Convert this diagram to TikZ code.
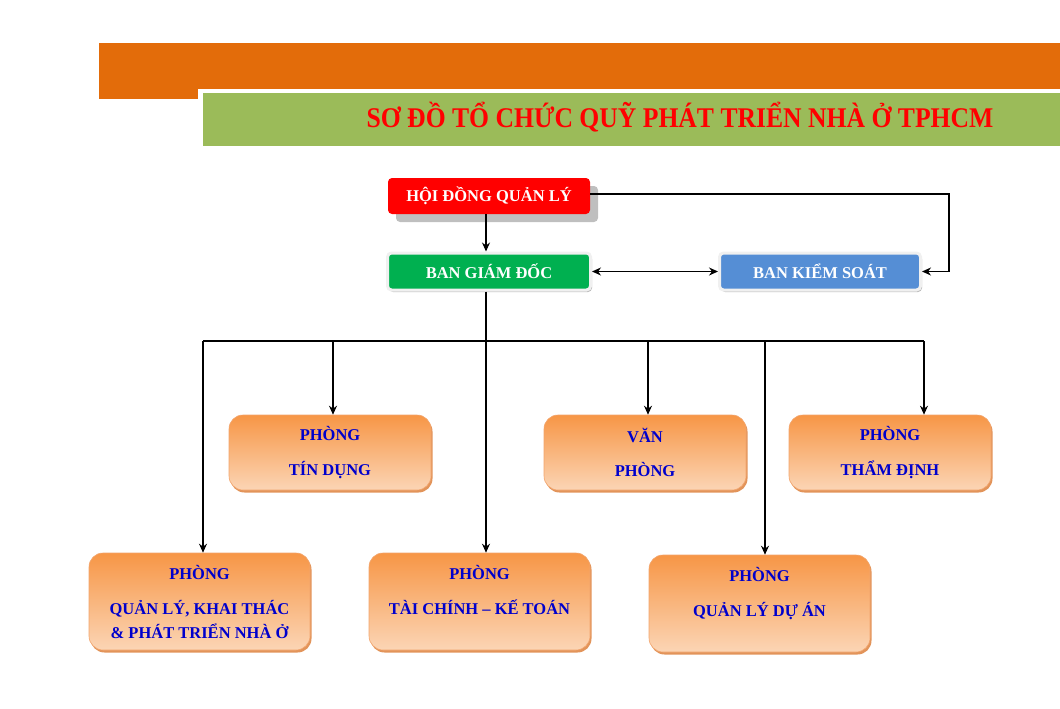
\documentclass[tikz,border=0pt]{standalone}
\usepackage{graphicx}
\usepackage{fontspec}
\setmainfont{Liberation Serif}
\usetikzlibrary{shadows,arrows.meta}

\definecolor{bandorange}{HTML}{E36C0A}
\definecolor{bandgreen}{HTML}{9BBB59}
\definecolor{boardred}{HTML}{FF0000}
\definecolor{boardgreen}{HTML}{00B050}
\definecolor{boardblue}{HTML}{558ED5}
\definecolor{depttop}{HTML}{F79646}
\definecolor{deptbot}{HTML}{FBD5B5}
\definecolor{deptedge}{HTML}{F2A46C}
\definecolor{deptshade}{HTML}{E2945A}
\definecolor{deptblue}{HTML}{0000CC}

\begin{document}
\begin{tikzpicture}[x=1pt, y=-1pt, >={Stealth[length=9pt,width=8pt]},
    boxfont/.style={font=\fontsize{16.5}{20}\selectfont\bfseries},
    board/.style={rectangle, rounded corners=4pt, boxfont, text=white,
                  inner sep=0pt},
    framed/.style={board, draw=gray!12, line width=3pt,
                   drop shadow={shadow xshift=1.5pt, shadow yshift=-2pt,
                                fill=gray!55, opacity=1}},
    dept/.style={rectangle, rounded corners=14pt, boxfont, text=deptblue,
                 align=center, inner sep=0pt, top color=depttop,
                 bottom color=deptbot, draw=deptedge, line width=0.6pt,
                 drop shadow={shadow xshift=1.5pt, shadow yshift=-2.5pt,
                              fill=deptshade, opacity=1}},
    link/.style={line width=1.2pt},
    ]
    \useasboundingbox (0,0) rectangle (1060,709);

    % title bands
    \fill[bandorange] (99,43) rectangle (1060,89);
    \fill[bandorange] (99,89) rectangle (198,99);
    \fill[bandgreen] (203,93) rectangle (1060,146);
    \node[text=boardred] at (680,117) (title)
        {\scalebox{0.9}[1]{\fontsize{28.5}{32}\selectfont\bfseries
         SƠ ĐỒ TỔ CHỨC QUỸ PHÁT TRIỂN NHÀ Ở TPHCM}};

    % board level
    \node[board, fill=boardred, minimum width=202pt, minimum height=36pt,
          drop shadow={shadow xshift=8pt, shadow yshift=-8pt, fill=gray!50, opacity=1}]
          at (489,196) (hdql) {HỘI ĐỒNG QUẢN LÝ};
    \node[framed, fill=boardgreen, minimum width=203pt, minimum height=37pt]
          at (489,271.5) (bgd) {BAN GIÁM ĐỐC};
    \node[framed, fill=boardblue, minimum width=201pt, minimum height=37pt]
          at (820,271.5) (bks) {BAN KIỂM SOÁT};

    % departments
    \node[dept, minimum width=202pt, minimum height=75pt] at (330,452.5) (tindung)
        {PHÒNG\\[15pt] TÍN DỤNG};
    \node[dept, minimum width=202pt, minimum height=75pt] at (645,452.5) (vanphong)
        {VĂN\\[14pt] PHÒNG};
    \node[dept, minimum width=202pt, minimum height=75pt] at (890,452.5) (thamdinh)
        {PHÒNG\\[15pt] THẨM ĐỊNH};
    \node[dept, minimum width=221pt, minimum height=97pt] at (199.5,601.5) (qlkt)
        {PHÒNG\\[15pt] QUẢN LÝ, KHAI THÁC\\[4pt] \& PHÁT TRIỂN NHÀ Ở};
    \node[dept, minimum width=221pt, minimum height=97pt] at (479.5,601.5) (taichinh)
        {PHÒNG\\[15pt] TÀI CHÍNH – KẾ TOÁN\\[4pt] ~};
    \node[dept, minimum width=221pt, minimum height=97pt] at (759.5,603.5) (qlda)
        {PHÒNG\\[15pt] QUẢN LÝ DỰ ÁN\\[4pt] ~};

    % bus line
    \coordinate (b1) at (203,341);
    \coordinate (b2) at (333,341);
    \coordinate (b3) at (486,341);
    \coordinate (b4) at (648,341);
    \coordinate (b5) at (765,341);
    \coordinate (b6) at (924,341);
    \coordinate (corner) at (949,194);

    \draw[link,->] (b3 |- hdql.south) -- (b3 |- bgd.north);
    \draw[link,<->] (bgd.east) -- (bks.west);
    \draw[link,->] (hdql.east |- corner) -- (corner) |- (bks.east);
    \draw[link] (b1) -- (b6);
    \draw[link,->] (b3 |- bgd.south) -- (b3 |- taichinh.north);
    \draw[link,->] (b1) -- (b1 |- qlkt.north);
    \draw[link,->] (b2) -- (b2 |- tindung.north);
    \draw[link,->] (b4) -- (b4 |- vanphong.north);
    \draw[link,->] (b5) -- (b5 |- qlda.north);
    \draw[link,->] (b6) -- (b6 |- thamdinh.north);
\end{tikzpicture}
\end{document}
